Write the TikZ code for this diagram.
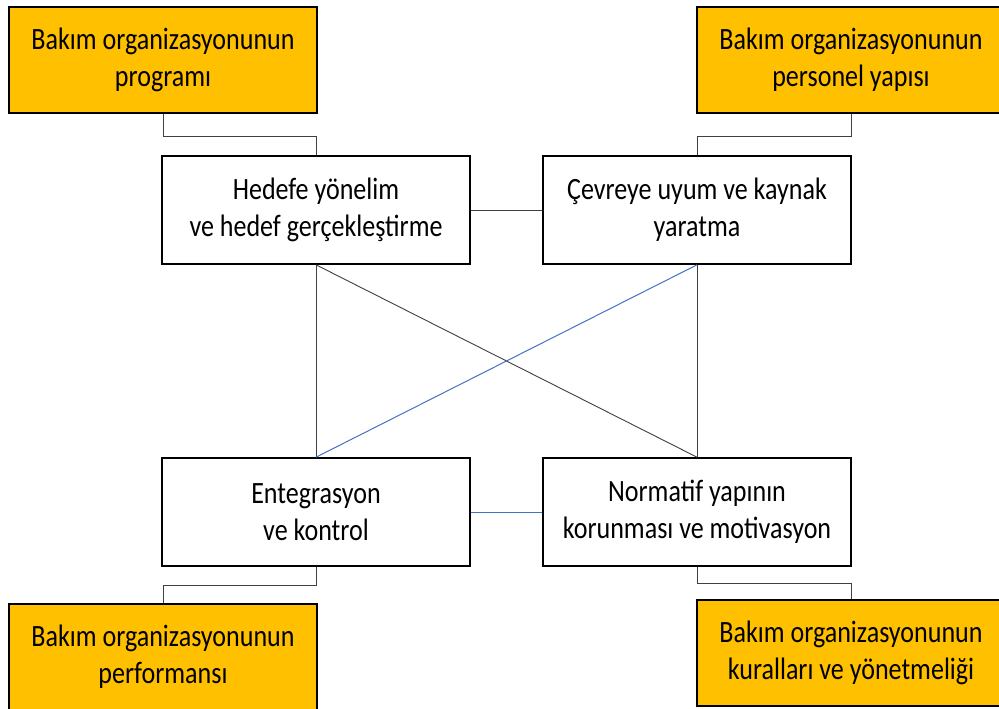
\documentclass[tikz,border=0pt]{standalone}
\usepackage{fontspec}
\setmainfont[FakeStretch=0.84]{Carlito}
\definecolor{boxyellow}{HTML}{FFC000}
\definecolor{linkblue}{HTML}{4472C4}
\definecolor{linkgray}{HTML}{404040}
\tikzset{
  ybox/.style={draw=black, line width=1.6pt, fill=boxyellow, minimum width=308pt, minimum height=106pt, inner sep=0pt, align=center, font=\fontsize{31}{37}\selectfont},
  wbox/.style={draw=black, line width=1.6pt, fill=white, minimum width=308pt, minimum height=108pt, inner sep=0pt, align=center, font=\fontsize{31}{37}\selectfont},
  glink/.style={draw=linkgray, line width=0.9pt},
  blink/.style={draw=linkblue, line width=1pt}
}
\begin{document}
\begin{tikzpicture}[x=1pt, y=-1pt]
\clip (0,0) rectangle (999,709);
\fill[white] (0,0) rectangle (999,709);
\node[wbox] (a) at (316,210) {Hedefe yönelim\\ve hedef gerçekleştirme};
\node[wbox] (b) at (697,210) {Çevreye uyum ve kaynak\\yaratma};
\node[wbox] (c) at (316,512) {Entegrasyon\\ve kontrol};
\node[wbox] (d) at (697,512) {Normatif yapının\\korunması ve motivasyon};
\node[ybox] (y1) at (163,60) {Bakım organizasyonunun\\programı};
\node[ybox] (y2) at (851,60) {Bakım organizasyonunun\\personel yapısı};
\node[ybox] (y3) at (163,657) {Bakım organizasyonunun\\performansı};
\node[ybox] (y4) at (851,653) {Bakım organizasyonunun\\kuralları ve yönetmeliği};
\draw[glink] (y1.south) -- ++(0,23) -| (a.north);
\draw[glink] (y2.south) -- ++(0,23) -| (b.north);
\draw[glink] (c.south) -- ++(0,19) -| (y3.north);
\draw[glink] (d.south) -- ++(0,17) -| (y4.north);
\draw[glink] (a.east) -- (b.west);
\draw[blink] (c.east) -- (d.west);
\draw[glink] (a.south) -- (c.north);
\draw[glink] (b.south) -- (d.north);
\draw[glink] (a.south) -- (d.north);
\draw[blink] (b.south) -- (c.north);
\end{tikzpicture}
\end{document}
